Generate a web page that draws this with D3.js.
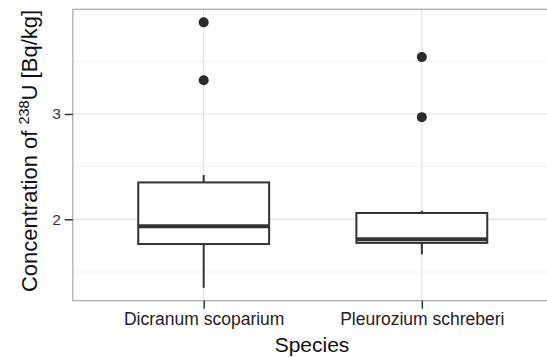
<!DOCTYPE html>
<html><head><meta charset="utf-8">
<script src="https://cdn.jsdelivr.net/npm/d3@7"></script>
<style>body{margin:0;background:#fff}svg{display:block}</style>
</head><body>
<script>
const species = ["Dicranum scoparium", "Pleurozium schreberi"];
const whiskerLow = [1.35, 1.667];
const q1 = [1.765, 1.776];
const median = [1.935, 1.81];
const q3 = [2.35, 2.06];
const whiskerHigh = [2.42, 2.08];
const outliers = [[3.32, 3.87], [2.97, 3.54]];
const yTicks = [2, 3];
const yMinor = [1.5, 2.5, 3.5];

const W = 547, H = 357;
const svg = d3.select("body").append("svg").attr("width", W).attr("height", H);
const L = 72.8, T = 9.3, R = 552.7, B = 300.7;
const font = "Liberation Sans, Arial, sans-serif";

const step = (R - L) / 2.2;
const xp = d3.scalePoint().domain(species).range([L + step * 0.6, R - step * 0.6]);
const y = d3.scaleLinear().domain([1.227, 3.994]).range([B, T]);

const g = svg.append("g");
// grid
g.selectAll(".minor").data(yMinor).join("line")
  .attr("x1", L).attr("x2", R).attr("y1", d => y(d)).attr("y2", d => y(d))
  .attr("stroke", "#f2f2f2").attr("stroke-width", 1);
g.selectAll(".major").data(yTicks).join("line")
  .attr("x1", L).attr("x2", R).attr("y1", d => y(d)).attr("y2", d => y(d))
  .attr("stroke", "#e3e3e3").attr("stroke-width", 1.2);
g.selectAll(".vmajor").data(species).join("line")
  .attr("x1", d => xp(d)).attr("x2", d => xp(d)).attr("y1", T).attr("y2", B)
  .attr("stroke", "#e3e3e3").attr("stroke-width", 1.2);

// boxes
const bw = step * 0.6;
species.forEach((s, i) => {
  const cx = xp(s);
  const bg = g.append("g");
  bg.append("line").attr("x1", cx).attr("x2", cx).attr("y1", y(q3[i])).attr("y2", y(whiskerHigh[i]))
    .attr("stroke", "#333").attr("stroke-width", 2);
  bg.append("line").attr("x1", cx).attr("x2", cx).attr("y1", y(q1[i])).attr("y2", y(whiskerLow[i]))
    .attr("stroke", "#333").attr("stroke-width", 2);
  bg.append("rect").attr("x", cx - bw / 2).attr("width", bw)
    .attr("y", y(q3[i])).attr("height", y(q1[i]) - y(q3[i]))
    .attr("fill", "#fff").attr("stroke", "#333").attr("stroke-width", 2);
  bg.append("line").attr("x1", cx - bw / 2).attr("x2", cx + bw / 2)
    .attr("y1", y(median[i])).attr("y2", y(median[i]))
    .attr("stroke", "#333").attr("stroke-width", 4);
  bg.selectAll("circle").data(outliers[i]).join("circle")
    .attr("cx", cx).attr("cy", d => y(d)).attr("r", 5).attr("fill", "#2b2b2b");
});

// panel border
svg.append("rect").attr("x", L).attr("y", T).attr("width", R - L).attr("height", B - T)
  .attr("fill", "none").attr("stroke", "#a8a8a8").attr("stroke-width", 1.2);

// axes
const yAxis = d3.axisLeft(y).tickValues(yTicks).tickSize(8).tickPadding(4).tickFormat(d3.format("d"));
const ya = svg.append("g").attr("transform", `translate(${L},0)`).call(yAxis);
ya.select(".domain").remove();
ya.selectAll("line").attr("stroke", "#333").attr("stroke-width", 1.5);
ya.selectAll("text").attr("font-family", font).attr("font-size", 15.5).attr("fill", "#333");

const xAxis = d3.axisBottom(xp).tickSize(8).tickPadding(4);
const xa = svg.append("g").attr("transform", `translate(0,${B})`).call(xAxis);
xa.select(".domain").remove();
xa.selectAll("line").attr("stroke", "#333").attr("stroke-width", 1.5);
xa.selectAll("text").attr("font-family", font).attr("font-size", 17.5).attr("fill", "#222");

// titles
svg.append("text").attr("x", 312).attr("y", 352).attr("text-anchor", "middle")
  .attr("font-family", font).attr("font-size", 21).attr("fill", "#111").text("Species");

const yt = svg.append("text").attr("transform", `translate(37,${(T + B) / 2 - 4}) rotate(-90)`)
  .attr("text-anchor", "middle").attr("font-family", font).attr("font-size", 22).attr("fill", "#111");
yt.append("tspan").text("Concentration of ");
yt.append("tspan").attr("font-size", 14.5).attr("dy", -8).text("238");
yt.append("tspan").attr("dy", 8).text("U [Bq/kg]");
</script>
</body></html>
